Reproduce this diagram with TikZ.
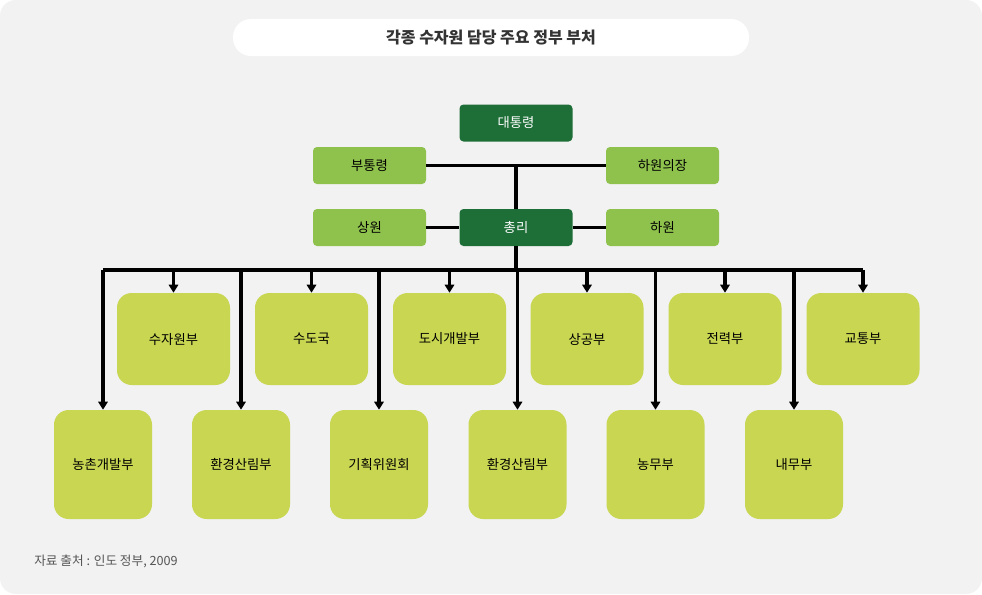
\documentclass[tikz,border=0pt]{standalone}
\usepackage{fontspec}
\setmainfont{Noto Sans CJK KR}
\usetikzlibrary{arrows.meta}
\definecolor{bgc}{HTML}{F2F2F2}
\definecolor{dkg}{HTML}{1E6E37}
\definecolor{ltg}{HTML}{8FC14D}
\definecolor{ylg}{HTML}{C8D652}
\definecolor{srcg}{HTML}{555555}
\tikzset{
  dark/.style={fill=dkg, text=white, rounded corners=3pt, minimum width=84.75pt, minimum height=27.75pt, inner sep=0pt, font=\fontsize{10}{12}\selectfont},
  light/.style={fill=ltg, text=black, rounded corners=3pt, minimum width=84.75pt, minimum height=27.75pt, inner sep=0pt, font=\fontsize{10}{12}\selectfont},
  upper/.style={fill=ylg, text=black, rounded corners=11pt, minimum width=84.75pt, minimum height=69pt, inner sep=0pt, font=\fontsize{10}{12}\selectfont},
  lower/.style={fill=ylg, text=black, rounded corners=11pt, minimum width=73.5pt, minimum height=81.75pt, inner sep=0pt, font=\fontsize{10}{12}\selectfont},
  conn/.style={draw=black, line width=2.6pt},
  arr/.style={draw=black, line width=2.6pt, -{Triangle[width=7pt,length=6pt]}}
}
\begin{document}
\begin{tikzpicture}[x=0.75pt,y=-0.75pt]
\useasboundingbox (0,0) rectangle (982,594);
\fill[white] (0,0) rectangle (982,594);
\fill[bgc, rounded corners=12pt] (0,0) rectangle (982,594);
% title
\node[fill=white, rounded corners=13.5pt, minimum width=387pt, minimum height=27.75pt, inner sep=0pt, font=\fontsize{12}{14}\selectfont\bfseries, text=black!80] (title) at (491,37.5) {각종 수자원 담당 주요 정부 부처};
% top nodes
\node[dark] (pres) at (516,123) {대통령};
\node[light] (vp) at (369.5,165.5) {부통령};
\node[light] (hs) at (662.5,165.5) {하원의장};
\node[light] (sen) at (369.5,227.5) {상원};
\node[dark] (pm) at (516,227.5) {총리};
\node[light] (hou) at (662.5,227.5) {하원};
% upper row
\node[upper] (t1) at (173.5,339) {수자원부};
\node[upper] (t2) at (311.5,339) {수도국};
\node[upper] (t3) at (449.5,339) {도시개발부};
\node[upper] (t4) at (587,339) {상공부};
\node[upper] (t5) at (725,339) {전력부};
\node[upper] (t6) at (863,339) {교통부};
% lower row
\node[lower] (b1) at (103,464.5) {농촌개발부};
\node[lower] (b2) at (241,464.5) {환경산림부};
\node[lower] (b3) at (379,464.5) {기획위원회};
\node[lower] (b4) at (517.5,464.5) {환경산림부};
\node[lower] (b5) at (655.5,464.5) {농무부};
\node[lower] (b6) at (794,464.5) {내무부};
% connectors
\draw[conn] (vp.east) -- (hs.west);
\draw[conn] (pm.north) -- (pm.north |- vp.east);
\draw[conn] (sen.east) -- (pm.west);
\draw[conn] (pm.east) -- (hou.west);
\coordinate (bus) at (516,270);
\draw[conn] (pm.south) -- (bus);
\draw[conn] (b1.north |- bus) -- (t6.north |- bus);
\foreach \n in {t1,t2,t3,t4,t5,t6,b1,b2,b3,b4,b5,b6}{
  \draw[arr] (\n.north |- bus) -- (\n.north);
}
% source
\node[anchor=west, text=srcg, font=\fontsize{9.5}{11}\selectfont, inner sep=0pt] (src) at (34,561) {자료 출처 : 인도 정부, 2009};
\end{tikzpicture}
\end{document}
